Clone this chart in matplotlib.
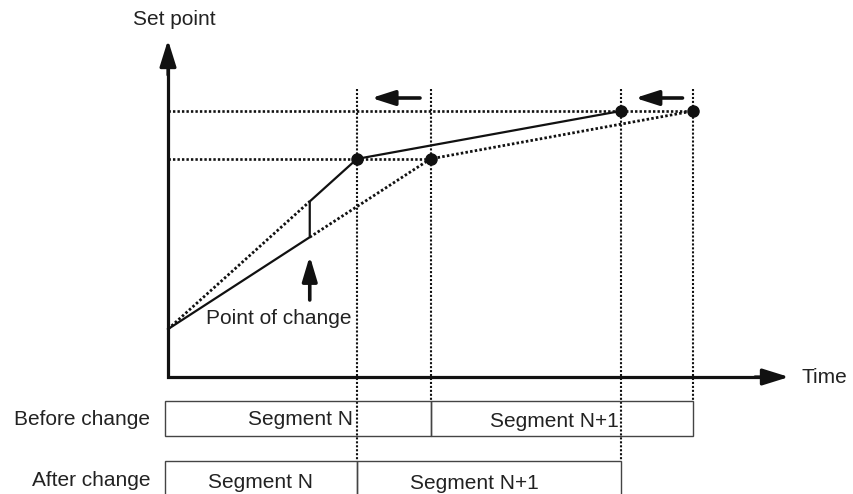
import matplotlib
matplotlib.use("Agg")
import matplotlib.pyplot as plt
import numpy as np
from matplotlib.patches import Rectangle

plt.rcParams['font.family'] = ['Liberation Sans', 'DejaVu Sans']

# ---- data (time units, set-point units) ----
start_time = 0.0
start_sp = 9.0
before_end_times = [10.0, 20.0]      # segment N, N+1 end times before change
after_end_times = [7.2, 17.25]       # segment N, N+1 end times after change
segment_setpoints = [41.0, 50.0]     # set point at end of segment N, N+1
change_time = 5.4
segment_labels = ["Segment N", "Segment N+1"]
row_labels = ["Before change", "After change"]

# ---- layout helpers (pixel -> data) ----
W, H = 854, 494
X0, Y0 = 168, 377          # pixel of axis origin
SX, SY = 26.25, 5.32       # pixels per unit
def dx(p): return (p - X0) / SX
def dy(p): return (Y0 - p) / SY

fig = plt.figure(figsize=(W/100, H/100), dpi=100)
ax = fig.add_axes([0, 0, 1, 1])
ax.set_xlim(dx(0), dx(W))
ax.set_ylim(dy(H), dy(0))
ax.axis('off')

ink = '#111111'
txt = '#222222'
FS = 15

# interpolated set points at the point of change
y_before_at_change = np.interp(change_time, [start_time, before_end_times[0]], [start_sp, segment_setpoints[0]])
y_after_at_change = np.interp(change_time, [start_time, after_end_times[0]], [start_sp, segment_setpoints[0]])

dot = (0, (0.9, 0.8))
vdot = (0, (1.0, 0.9))
# guide lines (horizontal)
for t_end, sp in zip(before_end_times, segment_setpoints):
    ax.plot([start_time, t_end], [sp, sp], color=ink, lw=1.9, ls=dot, dash_capstyle='butt', zorder=2)

# guide lines (vertical)
top = dy(89)
before_top, before_bot = dy(401), dy(436)
after_top, after_bot = dy(461), dy(520)
for t in before_end_times:
    ax.plot([t, t], [top, before_top], color=ink, lw=1.5, ls=vdot, dash_capstyle='butt', zorder=2)
for t in after_end_times:
    ax.plot([t, t], [top, after_top], color=ink, lw=1.5, ls=vdot, dash_capstyle='butt', zorder=2)

# dotted profiles
ax.plot([start_time, change_time], [start_sp, y_after_at_change], color=ink, lw=2.0, ls=dot, dash_capstyle='butt', zorder=3)
ax.plot([change_time] + before_end_times, [y_before_at_change] + segment_setpoints, color=ink, lw=2.0, ls=dot, dash_capstyle='butt', zorder=3)

# solid actual profile
ax.plot([start_time, change_time, change_time] + after_end_times,
        [start_sp, y_before_at_change, y_after_at_change] + segment_setpoints,
        color=ink, lw=1.6, solid_joinstyle='miter', zorder=4)

# points
ax.plot(before_end_times + after_end_times, segment_setpoints + segment_setpoints,
        'o', color=ink, ms=8, zorder=5)

# axes arrows
ax.plot([0, 0, dx(770)], [dy(60), 0, 0], color=ink, lw=2.3, solid_joinstyle='miter', zorder=6)
ax.annotate("", xy=(0, dy(40)), xytext=(0, dy(75)),
            arrowprops=dict(arrowstyle='-|>,head_length=1.6,head_width=0.5', lw=2.3, color=ink,
                            shrinkA=0, shrinkB=0), zorder=6)
ax.annotate("", xy=(dx(789), 0), xytext=(dx(755), 0),
            arrowprops=dict(arrowstyle='-|>,head_length=1.6,head_width=0.5', lw=2.3, color=ink,
                            shrinkA=0, shrinkB=0), zorder=6)

# left-shift arrows
ay = dy(98)
for tb, ta in zip(before_end_times, after_end_times):
    ax.annotate("", xy=(ta + 0.55, ay), xytext=(tb - 0.4, ay),
                arrowprops=dict(arrowstyle='-|>,head_length=1.4,head_width=0.45', lw=2.6, color=ink,
                                shrinkA=0, shrinkB=0))

# point of change arrow
ax.annotate("", xy=(change_time, dy(256)), xytext=(change_time, dy(300)),
            arrowprops=dict(arrowstyle='-|>,head_length=1.5,head_width=0.45', lw=2.6, color=ink,
                            shrinkA=0, shrinkB=0))
ax.text(dx(279), dy(318), "Point of change", ha='center', va='center', fontsize=FS, color=txt, zorder=7)

ax.text(dx(174), dy(20), "Set point", ha='center', va='center', fontsize=FS, color=txt)
ax.text(dx(802), 0, "Time", ha='left', va='center', fontsize=FS, color=txt)

# segment boxes
box_c = '#444444'
def box(x0, x1, y0, y1):
    ax.add_patch(Rectangle((x0, y1), x1 - x0, y0 - y1, fill=False, ec=box_c, lw=1.0, zorder=3))

bx0 = dx(165)
box(bx0, before_end_times[0], before_top, before_bot)
box(before_end_times[0], before_end_times[1], before_top, before_bot)
box(bx0, after_end_times[0], after_top, after_bot)
box(after_end_times[0], after_end_times[1], after_top, after_bot)

ax.text(dx(150), dy(419), row_labels[0], ha='right', va='center', fontsize=FS, color=txt)
ax.text(dx(150), dy(480), row_labels[1], ha='right', va='center', fontsize=FS, color=txt)

ax.text(dx(353), dy(419), segment_labels[0], ha='right', va='center', fontsize=FS, color=txt, zorder=7)
ax.text(dx(554), dy(421), segment_labels[1], ha='center', va='center', fontsize=FS, color=txt, zorder=7,
        bbox=dict(fc='white', ec='none', pad=0.5))
ax.text(dx(261), dy(482), segment_labels[0], ha='center', va='center', fontsize=FS, color=txt, zorder=7)
ax.text(dx(474), dy(483), segment_labels[1], ha='center', va='center', fontsize=FS, color=txt, zorder=7)

fig.savefig("out.png", dpi=100)
